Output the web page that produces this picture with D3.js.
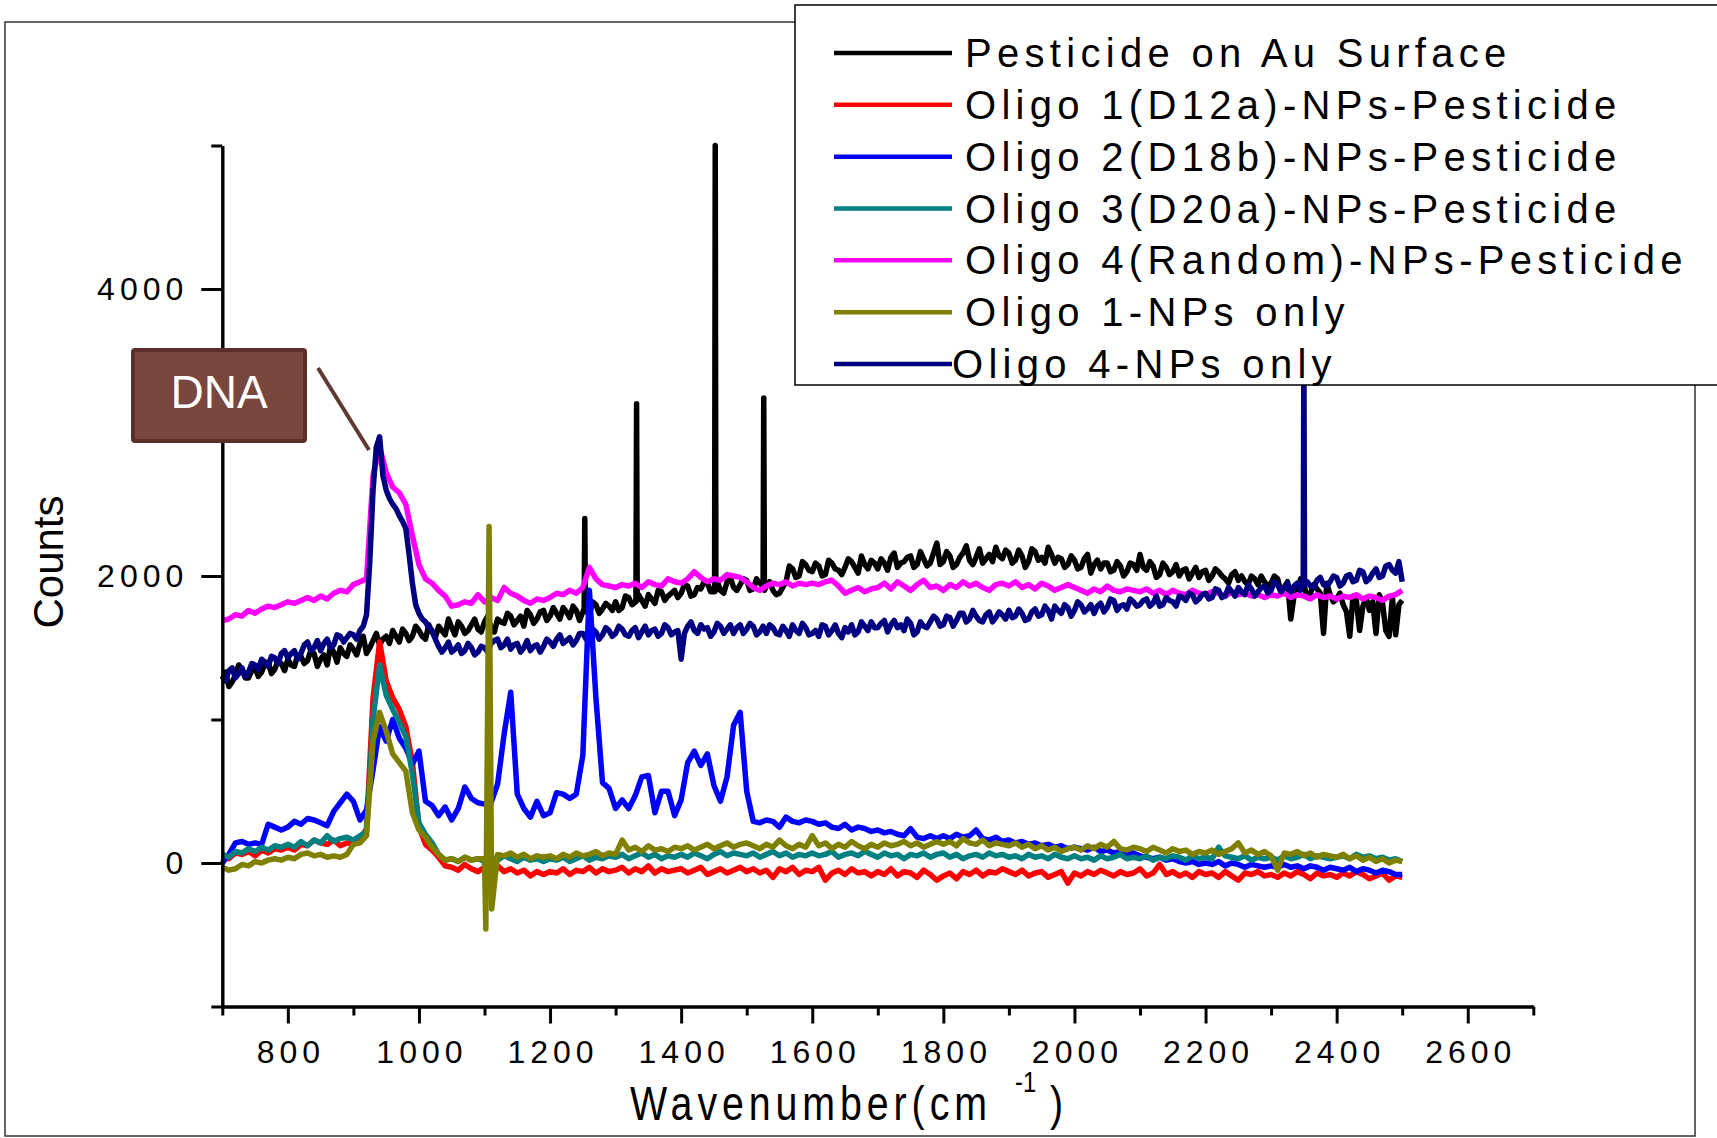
<!DOCTYPE html>
<html>
<head>
<meta charset="utf-8">
<script src="https://cdn.jsdelivr.net/npm/d3@7"></script>
<style>
  body { margin: 0; background: #fff; }
  text { font-family: Arial, "Liberation Sans", sans-serif; fill: #000; }
</style>
</head>
<body>
<script>
const pesticideAu = [
  1280, 1230, 1310, 1350, 1290, 1360, 1330, 1400, 1350, 1390,
  1420, 1370, 1440, 1410, 1460, 1420, 1380, 1470, 1500, 1440,
  1490, 1530, 1460, 1550, 1520, 1580, 1620, 1540, 1600, 1580,
  1620, 1560, 1610, 1650, 1590, 1640, 1680, 1600, 1660, 1630,
  1680, 1640, 1700, 1670, 1720, 1690, 1650, 1730, 1700, 1760,
  1720, 1740, 1780, 1710, 1760, 1750, 1730, 1800, 1770, 1790,
  1820, 1780, 1850, 1810, 1830, 1870, 1810, 1890, 1860, 1900,
  1880, 1930, 1870, 1910, 1950, 1880, 1900, 1960, 1920, 1940,
  1970, 1910, 1950, 1930, 1900, 1880, 1960, 2050, 2000, 2080,
  2030, 2070, 2010, 2090, 2040, 2060, 2100, 2020, 2080, 2110,
  2050, 2090, 2130, 2060, 2100, 2140, 2080, 2120, 2090, 2230,
  2100, 2140, 2080, 2160, 2110, 2130, 2090, 2150, 2200, 2120,
  2160, 2110, 2140, 2100, 2170, 2130, 2200, 2090, 2120, 2080,
  2110, 2060, 2150, 2080, 2050, 2090, 2040, 2070, 2030, 2080,
  2150, 2040, 2070, 2010, 2060, 2030, 2000, 2050, 2020, 1990,
  2040, 2000, 2030, 1980, 2010, 1970, 1960, 2000, 1940, 1960,
  1950, 1980, 1920, 1700, 1890, 1940, 1880, 1910, 1600, 1870,
  1840, 1800, 1580, 1830, 1790, 1760, 1600, 1810, 1580, 1590,
  1830
];
// extra samples half way between the 10 cm-1 points (705, 715, ... 2495)
const pesticideAuMid = [
  1330, 1260, 1380, 1290, 1340, 1300, 1390, 1320, 1410, 1340,
  1380, 1450, 1390, 1480, 1370, 1450, 1510, 1400, 1460, 1520,
  1450, 1580, 1500, 1600, 1560, 1530, 1580, 1630, 1550, 1650,
  1580, 1660, 1570, 1620, 1700, 1590, 1650, 1620, 1700, 1610,
  1720, 1610, 1680, 1740, 1660, 1720, 1760, 1670, 1750, 1690,
  1780, 1700, 1750, 1790, 1690, 1780, 1820, 1740, 1810, 1760,
  1760, 1860, 1800, 1870, 1790, 1840, 1900, 1830, 1880, 1850,
  1940, 1860, 1920, 1960, 1890, 1960, 1880, 1990, 1900, 1980,
  1900, 1980, 1890, 1960, 1870, 1920, 2070, 1990, 2100, 2040,
  2090, 2000, 2110, 2050, 2010, 2120, 2060, 2140, 2050, 2090,
  2120, 2040, 2160, 2090, 2130, 2060, 2170, 2070, 2160, 2080,
  2170, 2060, 2130, 2210, 2080, 2190, 2120, 2100, 2140, 2180,
  2090, 2180, 2060, 2190, 2110, 2090, 2150, 2130, 2060, 2140,
  2050, 2120, 2020, 2110, 2090, 2030, 2100, 2000, 2090, 2040,
  2060, 2100, 1990, 2090, 2010, 2080, 2040, 1980, 2060, 2030,
  1970, 2050, 2000, 1950, 2030, 2000, 1940, 1980, 2000, 1930,
  2000, 1890, 1960, 1860, 1980, 1850, 1940, 1880, 1950, 1820,
  1880, 1750, 1860, 1620, 1850, 1820, 1870, 1620, 1850, 1800
];
const pesticideAuSpikes = [
  [1252, 1770], [1253, 2400], [1254, 1760],
  [1331, 1820], [1332, 3200], [1333, 1830],
  [1451, 1890], [1452, 5000], [1453, 1900],
  [1525, 1930], [1526, 3240], [1527, 1900]
];

const oligo1D12a = [
  50, 30, 70, 60, 80, 50, 90, 70, 100, 90,
  110, 90, 130, 120, 160, 140, 130, 160, 120, 140,
  130, 160, 240, 1150, 1540, 1270, 1150, 1070, 950, 700,
  250, 130, 90, 40, -20, -30, -50, -10, -40, -60,
  -30, -50, -20, -60, -40, -70, -50, -90, -60, -80,
  -60, -70, -40, -80, -50, -60, -30, -70, -40, -60,
  -50, -30, -70, -40, -60, -20, -70, -40, -60, -50,
  -40, -70, -50, -30, -80, -60, -40, -70, -50, -30,
  -60, -40, -70, -50, -100, -40, -60, -30, -80, -50,
  -60, -30, -120, -70, -50, -80, -40, -70, -60, -90,
  -60, -80, -40, -90, -60, -70, -100, -50, -80, -120,
  -90, -70, -110, -60, -80, -50, -90, -60, -70, -40,
  -60, -80, -50, -90, -70, -60, -100, -80, -60, -140,
  -70, -90, -60, -80, -50, -70, -90, -60, -80, -70,
  -40, -90, -70, -10, -80, -60, -90, -70, -100, -60,
  -80, -70, -100, -60, -90, -120, -70, -80, -60, -90,
  -80, -100, -70, -90, -60, -80, -110, -70, -90, -80,
  -100, -70, -90, -60, -80, -110, -90, -70, -120, -90,
  -100
];

const oligo2D18b = [
  0, 60, 140, 150, 130, 140, 130, 270, 250, 230,
  250, 290, 270, 310, 300, 280, 260, 360, 420, 480,
  430, 300, 370, 650, 950, 850, 1000, 870, 800, 690,
  780, 430, 400, 330, 390, 300, 380, 530, 450, 420,
  410, 420, 550, 900, 1190, 480, 380, 320, 430, 330,
  350, 490, 480, 450, 480, 750, 1900, 1150, 560, 520,
  380, 440, 380, 470, 600, 610, 350, 500, 500, 330,
  440, 700, 780, 680, 760, 540, 430, 600, 960, 1050,
  500, 290, 280, 300, 290, 250, 320, 290, 280, 300,
  290, 270, 280, 250, 240, 270, 230, 250, 240, 220,
  230, 210, 220, 200, 190, 240, 180, 170, 190, 170,
  190, 170, 200, 180, 190, 230, 170, 160, 180, 150,
  160, 140, 150, 130, 140, 120, 130, 110, 120, 100,
  110, 100, 90, 110, 80, 90, 70, 80, 60, 70,
  50, 40, 30, 40, 20, 30, 10, 0, 10, -10,
  0, -10, 10, -20, 0, -10, -30, -10, -20, -30,
  -20, -30, -10, -30, -20, -40, -20, -30, -50, -30,
  -40, -50, -30, -60, -40, -50, -70, -50, -60, -80,
  -80
];

const oligo3D20a = [
  60, 40, 80, 70, 100, 80, 110, 90, 120, 110,
  130, 110, 150, 120, 160, 140, 190, 150, 170, 180,
  160, 190, 220, 1000, 1380, 1170, 1070, 980, 880, 620,
  280, 200, 140, 60, 20, 30, 10, 40, 20, 30,
  10, 40, 20, 50, 30, 10, 40, 20, 30, 10,
  30, 20, 40, 10, 30, 50, 20, 40, 30, 50,
  40, 60, 30, 50, 70, 40, 60, 30, 50, 40,
  60, 40, 70, 50, 30, 60, 80, 50, 70, 60,
  50, 70, 40, 60, 80, 50, 70, 40, 60, 50,
  70, 50, 60, 80, 40, 60, 70, 50, 80, 60,
  40, 70, 50, 60, 30, 60, 50, 70, 40, 60,
  70, 40, 60, 30, 50, 60, 40, 70, 50, 60,
  40, 50, 30, 60, 40, 50, 30, 60, 40, 30,
  50, 30, 40, 20, 50, 30, 40, 60, 30, 40,
  30, 50, 20, 40, 30, 50, 40, 20, 50, 30,
  40, 30, 110, 50, 40, 30, 50, 20, 40, 30,
  40, 20, 50, 30, 40, 60, 30, 50, 40, 30,
  40, 50, 30, 60, 40, 50, 30, 40, 20, 30,
  10
];

const oligo4Random = [
  1690, 1700, 1730, 1720, 1760, 1740, 1770, 1790, 1780, 1800,
  1820, 1810, 1830, 1850, 1830, 1860, 1840, 1880, 1900, 1890,
  1940, 1960, 1980, 2700, 2900, 2720, 2620, 2580, 2500, 2280,
  2080, 1980, 1950, 1900, 1860, 1790, 1800, 1820, 1810, 1870,
  1820, 1850, 1830, 1920, 1880, 1860, 1830, 1810, 1840, 1830,
  1850, 1880, 1870, 1900, 1880, 1920, 2060, 1980, 1940, 1930,
  1920, 1940, 1930, 1950, 1920, 1960, 1940, 1930, 1980, 1960,
  1950, 1980, 2030, 1990, 1960, 1980, 1970, 2010, 2000, 1990,
  1960, 1920, 1900, 1930, 1950, 1940, 1960, 1930, 1950, 1940,
  1950, 1940, 1960, 1970, 1930, 1880, 1900, 1920, 1890, 1910,
  1920, 1950, 1910, 1960, 1930, 1900, 1940, 1970, 1920, 1930,
  1900, 1940, 1920, 1960, 1930, 1950, 1920, 1900, 1940, 1950,
  1930, 1960, 1920, 1940, 1910, 1950, 1930, 1900, 1920, 1940,
  1920, 1900, 1880, 1910, 1890, 1930, 1900, 1890, 1910, 1900,
  1890, 1910, 1880, 1900, 1870, 1900, 1880, 1870, 1900, 1880,
  1870, 1890, 1880, 1860, 1890, 1870, 1880, 1860, 1870, 1850,
  1870, 1860, 1880, 1850, 1870, 1860, 1840, 1870, 1850, 1860,
  1840, 1860, 1850, 1870, 1840, 1860, 1850, 1830, 1860, 1870,
  1900
];

const oligo1Only = [
  -30, -50, -40, -10, -20, 10, 0, 20, 30, 20,
  40, 30, 60, 70, 50, 60, 40, 50, 40, 60,
  130, 140, 190, 850, 1050, 920, 760, 700, 640, 350,
  230, 180, 110, 60, 20, 30, 10, 40, 20, 30,
  30, 40, 60, 50, 70, 40, 60, 30, 50, 40,
  50, 30, 60, 40, 70, 50, 60, 80, 50, 70,
  60, 160, 90, 110, 80, 120, 90, 100, 80, 110,
  100, 120, 90, 110, 130, 100, 120, 140, 110, 130,
  140, 120, 100, 130, 110, 160, 120, 100, 130, 110,
  190, 120, 140, 100, 130, 110, 150, 120, 100, 130,
  110, 140, 120, 130, 150, 120, 140, 110, 130, 150,
  130, 150, 120, 170, 140, 130, 160, 120, 140, 130,
  120, 140, 110, 130, 100, 120, 90, 110, 80, 100,
  110, 90, 120, 100, 130, 110, 150, 100, 90, 110,
  100, 80, 110, 90, 70, 100, 80, 90, 60, 80,
  70, 90, 60, 80, 100, 140, 70, 90, 60, 80,
  50, -50, 70, 60, 80, 50, 70, 40, 60, 50,
  40, 60, 30, 50, 20, 40, 10, 30, 0, 20,
  10
];
const oligo1OnlySpike = [[1102, -460], [1107, 2345], [1111, -320]];

const oligo4Only = [
  1300, 1340, 1290, 1360, 1330, 1380, 1420, 1370, 1430, 1460,
  1430, 1480, 1460, 1540, 1500, 1480, 1560, 1520, 1580, 1570,
  1590, 1620, 1730, 2600, 2970, 2600, 2500, 2420, 2330, 1950,
  1740, 1680, 1620, 1510, 1500, 1470, 1520, 1480, 1500, 1470,
  1500, 1530, 1560, 1520, 1490, 1530, 1500, 1480, 1520, 1510,
  1540, 1560, 1530, 1570, 1550, 1600, 1580, 1610, 1590, 1620,
  1600, 1630, 1580, 1640, 1610, 1590, 1630, 1600, 1640, 1610,
  1420, 1650, 1620, 1660, 1640, 1610, 1650, 1630, 1600, 1660,
  1630, 1650, 1610, 1600, 1640, 1590, 1620, 1660, 1600, 1640,
  1600, 1580, 1650, 1620, 1600, 1640, 1660, 1610, 1650, 1680,
  1640, 1690, 1660, 1640, 1620, 1670, 1610, 1650, 1680, 1700,
  1660, 1710, 1690, 1740, 1700, 1720, 1680, 1750, 1710, 1730,
  1760, 1720, 1740, 1700, 1770, 1730, 1760, 1790, 1740, 1780,
  1760, 1800, 1770, 1740, 1810, 1780, 1830, 1790, 1770, 1820,
  1800, 1840, 1810, 1790, 1850, 1820, 1860, 1830, 1870, 1840,
  1880, 1850, 1900, 1860, 1890, 1920, 1870, 1910, 1890, 1930,
  1900, 1940, 1920, 1890, 1950, 1930, 1930, 1970, 1940, 1960,
  1990, 1950, 2010, 1970, 2030, 1980, 2050, 2000, 2080, 2020,
  1960
];
const oligo4OnlyMid = [
  1270, 1360, 1320, 1300, 1390, 1350, 1400, 1440, 1390, 1480,
  1460, 1420, 1520, 1480, 1550, 1530, 1500, 1590, 1540, 1600,
  1560, 1650, 2100, 2900, 2700, 2540, 2470, 2380, 2150, 1800,
  1700, 1640, 1560, 1470, 1540, 1490, 1460, 1530, 1450, 1510,
  1470, 1550, 1500, 1560, 1520, 1470, 1550, 1510, 1470, 1560,
  1510, 1590, 1550, 1520, 1600, 1560, 1630, 1560, 1640, 1580,
  1650, 1590, 1620, 1570, 1650, 1620, 1580, 1660, 1590, 1620,
  1600, 1680, 1600, 1630, 1580, 1670, 1600, 1660, 1640, 1600,
  1670, 1590, 1650, 1660, 1600, 1650, 1580, 1620, 1670, 1590,
  1620, 1660, 1590, 1660, 1570, 1610, 1590, 1680, 1620, 1640,
  1670, 1610, 1690, 1660, 1700, 1590, 1680, 1640, 1720, 1650,
  1720, 1650, 1740, 1680, 1760, 1690, 1730, 1680, 1750, 1700,
  1710, 1770, 1690, 1750, 1720, 1790, 1700, 1760, 1800, 1720,
  1820, 1750, 1800, 1790, 1750, 1840, 1760, 1800, 1840, 1790,
  1830, 1790, 1860, 1800, 1830, 1790, 1850, 1880, 1820, 1870,
  1840, 1910, 1850, 1920, 1860, 1890, 1940, 1860, 1920, 1880,
  1960, 1890, 1950, 1930, 1900, 1960, 1920, 1990, 1930, 2000,
  1930, 2000, 1960, 2040, 1960, 2020, 1990, 2070, 2040, 2100
];
const oligo4OnlySpike = [[2349, 1950], [2350, 3600], [2351, 1940]];

const legendNames = [
  "Pesticide on Au Surface",
  "Oligo 1(D12a)-NPs-Pesticide",
  "Oligo 2(D18b)-NPs-Pesticide",
  "Oligo 3(D20a)-NPs-Pesticide",
  "Oligo 4(Random)-NPs-Pesticide",
  "Oligo 1-NPs only",
  "Oligo 4-NPs only"
];
const colors = ["#000000", "#ff0000", "#0000ff", "#008080", "#ff00ff", "#808000", "#000080"];
const xMajor = [800, 1000, 1200, 1400, 1600, 1800, 2000, 2200, 2400, 2600];
const xMinor = [700, 900, 1100, 1300, 1500, 1700, 1900, 2100, 2300, 2500, 2700];
const yMajor = [0, 2000, 4000];
const yMinor = [-1000, 1000, 3000, 5000];

const width = 1717, height = 1138;
const plot = {left: 222.3, right: 1533.3, top: 145.5, bottom: 1006.5};

const svg = d3.select("body").append("svg")
    .attr("width", width)
    .attr("height", height);

svg.append("rect")
    .attr("width", width).attr("height", height)
    .attr("fill", "#fff");

// outer frame
svg.append("rect")
    .attr("x", 5).attr("y", 22)
    .attr("width", 1690).attr("height", 1114)
    .attr("fill", "none")
    .attr("stroke", "#333")
    .attr("stroke-width", 1.5);

const x = d3.scaleLinear().domain([700, 2700]).range([plot.left, plot.right]);
const y = d3.scaleLinear().domain([-1000, 5000]).range([plot.bottom, plot.top]);

const grid = d3.range(700, 2501, 10);
function toPoints(values, mids, extra) {
  let pts = grid.map((w, i) => [w, values[i]]);
  if (mids) pts = pts.concat(mids.map((v, i) => [grid[i] + 5, v]));
  if (extra) pts = pts.filter(p => !extra.some(e => Math.abs(e[0] - p[0]) < 2)).concat(extra);
  return pts.sort((a, b) => a[0] - b[0]);
}

const series = [
  toPoints(pesticideAu, pesticideAuMid, pesticideAuSpikes),
  toPoints(oligo1D12a),
  toPoints(oligo2D18b),
  toPoints(oligo3D20a),
  toPoints(oligo4Random),
  toPoints(oligo1Only, null, oligo1OnlySpike),
  toPoints(oligo4Only, oligo4OnlyMid, oligo4OnlySpike)
];

const line = d3.line()
    .x(d => x(d[0]))
    .y(d => y(d[1]));

// drawing order (which trace lies on top)
const order = [0, 4, 6, 1, 2, 3, 5];
svg.append("g").selectAll("path")
    .data(order)
  .enter().append("path")
    .attr("d", i => line(series[i]))
    .attr("fill", "none")
    .attr("stroke", i => colors[i])
    .attr("stroke-width", 5.5)
    .attr("stroke-linejoin", "round");

// axes
const ls = 5; // letter spacing of tick labels
function styleAxis(g) {
  g.select(".domain").attr("stroke-width", 3);
  g.selectAll(".tick line").attr("stroke-width", 3);
  g.selectAll(".tick text")
      .attr("font-size", 32)
      .attr("font-family", "Arial, 'Liberation Sans', sans-serif")
      .style("letter-spacing", ls + "px");
}

svg.append("g")
    .attr("transform", `translate(0,${plot.bottom})`)
    .call(d3.axisBottom(x).tickValues(xMinor).tickSize(9).tickSizeOuter(0).tickFormat(""))
    .call(styleAxis);
svg.append("g")
    .attr("transform", `translate(0,${plot.bottom})`)
    .call(d3.axisBottom(x).tickValues(xMajor).tickSize(17).tickSizeOuter(0).tickPadding(17).tickFormat(d3.format("d")))
    .call(styleAxis)
    .call(g => g.selectAll(".tick text").attr("dx", ls / 2));

svg.append("g")
    .attr("transform", `translate(${plot.left},0)`)
    .call(d3.axisLeft(y).tickValues(yMinor).tickSize(11).tickSizeOuter(0).tickFormat(""))
    .call(styleAxis);
svg.append("g")
    .attr("transform", `translate(${plot.left},0)`)
    .call(d3.axisLeft(y).tickValues(yMajor).tickSize(21).tickSizeOuter(0).tickPadding(13).tickFormat(d3.format("d")))
    .call(styleAxis);

// axis titles
svg.append("text")
    .attr("transform", "translate(63,562) rotate(-90)")
    .attr("text-anchor", "middle")
    .attr("font-size", 42)
    .text("Counts");

// x title: tall, narrow lettering
const xt = svg.append("g")
    .attr("transform", "translate(630,1120) scale(0.82,1)");
xt.append("text")
    .attr("font-size", 48)
    .attr("textLength", (987 - 630) / 0.82)
    .attr("lengthAdjust", "spacing")
    .text("Wavenumber(cm");
xt.append("text")
    .attr("x", (1015 - 630) / 0.82).attr("y", -28)
    .attr("font-size", 29)
    .text("-1");
xt.append("text")
    .attr("x", (1050 - 630) / 0.82)
    .attr("font-size", 48)
    .text(")");

// DNA callout
svg.append("line")
    .attr("x1", 318).attr("y1", 368)
    .attr("x2", 369).attr("y2", 450)
    .attr("stroke", "#5e3a32")
    .attr("stroke-width", 4);
svg.append("rect")
    .attr("x", 133).attr("y", 350)
    .attr("width", 172).attr("height", 91)
    .attr("rx", 2)
    .attr("fill", "#7a473f")
    .attr("stroke", "#5b2e29")
    .attr("stroke-width", 4);
svg.append("text")
    .attr("x", 219).attr("y", 408)
    .attr("text-anchor", "middle")
    .attr("font-size", 46)
    .style("fill", "#fff")
    .text("DNA");

// legend
const legend = svg.append("g");
legend.append("rect")
    .attr("x", 795).attr("y", 5)
    .attr("width", 925).attr("height", 380)
    .attr("fill", "#fff")
    .attr("stroke", "#000")
    .attr("stroke-width", 1.5);

const rowY = d3.scaleLinear().domain([0, 6]).range([53, 364]);
const item = legend.selectAll(".item")
    .data(legendNames)
  .enter().append("g")
    .attr("class", "item")
    .attr("transform", (d, i) => `translate(0,${rowY(i)})`);
item.append("line")
    .attr("x1", 834).attr("x2", 952)
    .attr("stroke", (d, i) => colors[i])
    .attr("stroke-width", 4.5);
item.append("text")
    .attr("x", (d, i) => i === 6 ? 952 : 965)
    .attr("y", 14)
    .attr("font-size", 40)
    .style("letter-spacing", "5.3px")
    .text(d => d);
</script>
</body>
</html>
